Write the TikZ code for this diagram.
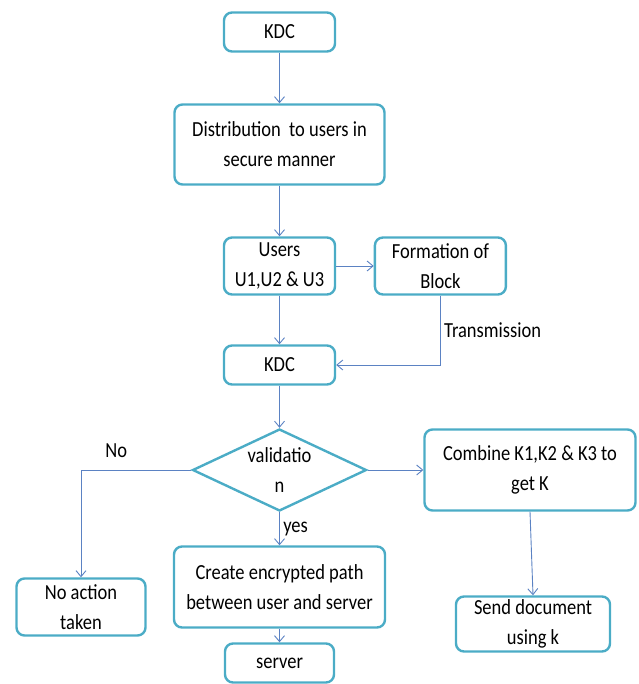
\documentclass[tikz,border=0pt]{standalone}
\usepackage{fontspec}
\setmainfont{Carlito}[FakeStretch=0.86]
\usetikzlibrary{positioning}
\usetikzlibrary{shapes.geometric}
\usetikzlibrary{arrows.meta}
\definecolor{boxcol}{RGB}{75,172,198}
\definecolor{linecol}{RGB}{91,130,195}
\tikzset{
	blk/.style={draw=boxcol, line width=2.4pt, rounded corners=8pt, align=center, inner sep=0pt, font=\fontsize{21.5}{30}\selectfont},
	decide/.style={diamond, draw=boxcol, line width=2.4pt, align=center, inner sep=0pt, shape aspect=2.1, font=\fontsize{21.5}{30}\selectfont},
	flow/.style={draw=linecol, line width=0.9pt, -{Straight Barb[length=6pt,width=10pt]}},
	lbl/.style={font=\fontsize{21.5}{30}\selectfont}
}
\begin{document}
\begin{tikzpicture}[x=1pt,y=1pt]
	\useasboundingbox (0,0) rectangle (638,-684);
	%% top column
	\node[blk, minimum width=111, minimum height=39] (kdca) at (279.5,-32) {KDC};
	\node[blk, minimum width=210, minimum height=80] (dist) at (279.5,-144.5) {Distribution\ \ to users in\\secure manner};
	\node[blk, minimum width=111, minimum height=57] (users) at (279.5,-266) {Users\\U1,U2 \& U3};
	\node[blk, minimum width=131, minimum height=57, right =37.5 of users] (form) {Formation of\\Block};
	\node[blk, minimum width=111, minimum height=39] (kdcb) at (279.5,-365) {KDC};
	%% decision and branches
	\node[decide, minimum width=174, minimum height=82] (valid) at (279.5,-470) {validatio\\n};
	\node[blk, minimum width=211, minimum height=81] (comb) at (530,-470) {Combine K1,K2 \& K3 to\\get K};
	\node[blk, minimum width=129, minimum height=57] (noact) at (81,-607) {No action\\taken};
	\node[blk, minimum width=211, minimum height=81] (create) at (279.5,-587) {Create encrypted path\\between user and server};
	\node[blk, minimum width=154, minimum height=55] (send) at (533,-624) {Send document\\using k};
	\node[blk, minimum width=109, minimum height=39] (server) at (279.5,-663) {server};
	% connectors
	\draw[flow] (kdca) -- (dist);
	\draw[flow] (dist) -- (users);
	\draw[flow] (users) -- (form);
	\draw[flow] (users) -- (kdcb);
	\draw[flow] (form.south) |- node[lbl, right, pos=0.25] {Transmission} (kdcb.east);
	\draw[flow] (kdcb) -- (valid);
	\draw[flow] (valid.west) -| node[lbl, above=9pt, pos=0.34] {No} (noact.north);
	\draw[flow] (valid) -- (comb);
	\draw[flow] (valid) -- node[lbl, right] {yes} (create);
	\draw[flow] (create) -- (server);
	\draw[flow] (comb.south) -- (send.north);
\end{tikzpicture}
\end{document}
